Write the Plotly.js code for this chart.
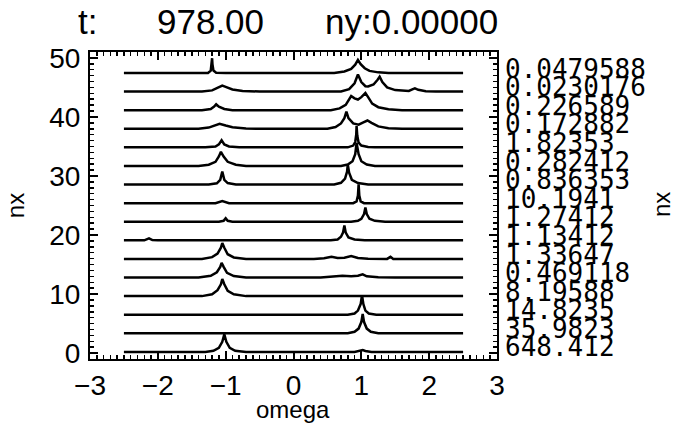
<!DOCTYPE html>
<html>
<head>
<meta charset="utf-8">
<script src="https://cdn.plot.ly/plotly-3.0.1.min.js"></script>
<style>
  html, body { margin: 0; padding: 0; background: #fff; }
  #chart { width: 681px; height: 443px; }
</style>
</head>
<body>
<div id="chart"></div>
<script>
// Stacked power spectra, one row per nx, bottom row first.
// Each spectrum is a list of [omega, amplitude] points; amplitude is
// measured upward from the row's baseline, in nx units.
const rowLabels = ['648.412', '35.9823', '14.8235', '8.19588', '0.469118', '1.33647',
  '1.13412', '1.27412', '10.1941', '0.836353', '0.282412', '1.82353',
  '0.172882', '0.226589', '0.0230176', '0.0479588'];
const rowOffsets = [0.2, 3.35, 6.5, 9.65, 12.8, 15.95, 19.1, 22.25, 25.4, 28.55,
  31.7, 34.85, 38.0, 41.15, 44.3, 47.45];

const spec00 = [[-2.5,0],[-1.3,0],[-1.18,0.2],[-1.1,0.7],[-1.05,1.7],[-1.02,3.0],[-0.99,1.7],[-0.94,0.7],[-0.86,0.2],[-0.7,0],
  [0.9,0],[0.98,0.15],[1.02,0.3],[1.06,0.15],[1.15,0],[2.5,0]];
const spec01 = [[-2.5,0],[0.8,0],[0.9,0.25],[0.96,0.8],[1.0,1.9],[1.02,3.3],[1.04,1.9],[1.08,0.8],[1.14,0.25],[1.25,0],[2.5,0]];
const spec02 = [[-2.5,0],[0.8,0],[0.9,0.2],[0.95,0.7],[0.99,1.8],[1.01,3.3],[1.03,1.8],[1.06,0.7],[1.11,0.2],[1.22,0],[2.5,0]];
const spec03 = [[-2.5,0],[-1.35,0],[-1.2,0.3],[-1.12,1.0],[-1.07,2.0],[-1.05,2.9],[-1.02,2.0],[-0.97,0.9],[-0.88,0.3],[-0.7,0],[2.5,0]];
const spec04 = [[-2.5,0],[-1.4,0],[-1.22,0.3],[-1.13,0.9],[-1.08,1.8],[-1.06,2.5],[-1.03,1.8],[-0.98,0.8],[-0.88,0.25],[-0.7,0],
  [0.4,0],[0.55,0.1],[0.72,0.3],[0.85,0.2],[0.95,0.3],[1.02,0.55],[1.08,0.2],[1.25,0.05],[1.5,0],[2.5,0]];
const spec05 = [[-2.5,0],[-1.35,0],[-1.2,0.3],[-1.12,0.9],[-1.07,1.9],[-1.05,2.7],[-1.02,1.9],[-0.97,0.8],[-0.88,0.25],[-0.7,0],
  [0.3,0],[0.45,0.1],[0.56,0.35],[0.65,0.15],[0.75,0.2],[0.85,0.5],[0.95,0.15],[1.1,0.05],[1.38,0],[1.43,0.35],[1.47,0],[2.5,0]];
const spec06 = [[-2.5,0],[-2.2,0],[-2.13,0.35],[-2.08,0.05],[-2.0,0],
  [0.55,0],[0.65,0.15],[0.7,0.6],[0.73,1.3],[0.75,2.5],[0.77,1.3],[0.81,0.5],[0.9,0.15],[1.05,0],[2.5,0]];
const spec07 = [[-2.5,0],[-1.1,0],[-1.03,0.15],[-1.0,0.6],[-0.97,0.15],[-0.9,0],
  [0.85,0],[0.95,0.15],[1.0,0.5],[1.04,1.3],[1.06,2.4],[1.08,1.3],[1.12,0.5],[1.2,0.15],[1.35,0],[2.5,0]];
const spec08 = [[-2.5,0],[-1.15,0],[-1.05,0.35],[-0.95,0],
  [0.88,0],[0.93,0.3],[0.95,1.3],[0.96,3.2],[0.97,1.3],[0.99,0.3],[1.04,0],[2.5,0]];
const spec09 = [[-2.5,0],[-1.25,0],[-1.13,0.2],[-1.08,0.8],[-1.05,2.2],[-1.02,0.8],[-0.97,0.25],[-0.85,0],
  [0.6,0],[0.7,0.3],[0.76,1.0],[0.79,2.2],[0.8,3.4],[0.82,2.0],[0.86,0.8],[0.95,0.25],[1.1,0],[2.5,0]];
const spec10 = [[-2.5,0],[-1.4,0],[-1.25,0.2],[-1.15,0.7],[-1.1,1.6],[-1.07,2.4],[-1.03,1.6],[-0.97,0.7],[-0.85,0.2],[-0.7,0],
  [0.7,0],[0.8,0.25],[0.87,0.8],[0.91,2.0],[0.93,3.9],[0.96,2.0],[1.0,0.8],[1.08,0.25],[1.2,0],[2.5,0]];
const spec11 = [[-2.5,0],[-1.3,0],[-1.15,0.15],[-1.1,0.5],[-1.06,1.2],[-1.02,0.5],[-0.95,0.15],[-0.8,0],
  [0.8,0],[0.88,0.3],[0.91,0.9],[0.925,2.2],[0.93,3.6],[0.94,2.0],[0.96,0.8],[1.0,0.3],[1.1,0.05],[1.2,0],[2.5,0]];
const spec12 = [[-2.5,0],[-1.4,0],[-1.25,0.2],[-1.15,0.6],[-1.09,0.85],[-1.0,0.55],[-0.9,0.25],[-0.7,0.05],[-0.5,0],
  [0.5,0],[0.62,0.3],[0.7,0.9],[0.75,1.8],[0.78,2.9],[0.81,1.8],[0.88,0.9],[0.96,0.7],[1.03,1.1],[1.09,1.4],[1.15,1.0],[1.25,0.4],[1.4,0.1],[1.6,0],[2.5,0]];
const spec13 = [[-2.5,0],[-1.35,0],[-1.22,0.2],[-1.17,0.6],[-1.14,1.0],[-1.1,0.6],[-1.02,0.2],[-0.9,0],
  [0.55,0],[0.68,0.3],[0.77,0.9],[0.82,1.8],[0.85,2.4],[0.9,2.0],[0.95,1.8],[1.0,2.2],[1.06,2.9],[1.1,2.2],[1.16,1.1],[1.25,0.5],[1.4,0.15],[1.6,0],[2.5,0]];
const spec14 = [[-2.5,0],[-1.35,0],[-1.2,0.2],[-1.1,0.7],[-1.05,1.0],[-1.0,0.8],[-0.9,0.35],[-0.75,0.1],[-0.5,0],
  [0.7,0],[0.82,0.4],[0.9,1.4],[0.95,2.9],[1.0,1.6],[1.06,0.9],[1.1,0.85],[1.18,1.2],[1.24,2.0],[1.27,2.5],[1.31,1.6],[1.38,0.7],[1.5,0.25],[1.65,0.1],
  [1.7,0.1],[1.76,0.4],[1.79,0.55],[1.84,0.3],[1.95,0.05],[2.1,0],[2.5,0]];
const spec15 = [[-2.5,0],[-1.26,0],[-1.22,0.4],[-1.205,1.5],[-1.2,2.5],[-1.195,1.5],[-1.18,0.4],[-1.14,0.05],[-1.0,0],
  [0.6,0],[0.75,0.25],[0.85,0.7],[0.91,1.4],[0.95,2.2],[0.99,1.5],[1.05,0.8],[1.12,0.35],[1.25,0.1],[1.4,0],[2.5,0]];

const spectra = [spec00, spec01, spec02, spec03, spec04, spec05, spec06, spec07,
  spec08, spec09, spec10, spec11, spec12, spec13, spec14, spec15];

const omegaRange = [-3, 3];
const nxRange = [-1, 51];
const omegaTicks = [-3, -2, -1, 0, 1, 2, 3];
const nxTicks = [0, 10, 20, 30, 40, 50];

const ink = '#000';
const traces = spectra.map((spec, i) => ({
  type: 'scatter',
  mode: 'lines',
  x: spec.map(p => p[0]),
  y: spec.map(p => rowOffsets[i] + p[1]),
  line: { color: ink, width: 2.5 },
  hoverinfo: 'skip',
  showlegend: false
}));

// plot area in pixels
const L = 90, R = 497, T = 52, B = 359, W = 681, H = 443;
const px = x => (x - L) / (R - L);
const py = y => (B - y) / (B - T);

const annotations = rowLabels.map((txt, i) => ({
  xref: 'paper', yref: 'y',
  x: px(503), y: rowOffsets[i] + 0.75,
  xanchor: 'left', yanchor: 'middle',
  text: txt, showarrow: false,
  font: { family: 'DejaVu Sans Mono', size: 26, color: ink }
}));

const titleFont = { family: 'Liberation Sans', size: 24, color: ink };
const headFont = { family: 'Liberation Sans', size: 35, color: ink };
annotations.push(
  { xref: 'paper', yref: 'paper', x: px(87), y: py(22), text: 't:', showarrow: false, xanchor: 'center', yanchor: 'middle', font: headFont },
  { xref: 'paper', yref: 'paper', x: px(210), y: py(22), text: '978.00', showarrow: false, xanchor: 'center', yanchor: 'middle', font: headFont },
  { xref: 'paper', yref: 'paper', x: px(411), y: py(22), text: 'ny:0.00000', showarrow: false, xanchor: 'center', yanchor: 'middle', font: headFont },
  // x axis title
  { xref: 'paper', yref: 'paper', x: px(293), y: py(409), text: 'omega', showarrow: false, xanchor: 'center', yanchor: 'middle', font: titleFont },
  // right-hand axis title
  { xref: 'paper', yref: 'paper', x: px(661), y: py(205), text: 'nx', showarrow: false, textangle: -90, xanchor: 'center', yanchor: 'middle', font: titleFont }
);

const axisCommon = {
  showgrid: false, zeroline: false,
  showline: true, linecolor: ink, linewidth: 2,
  mirror: 'allticks', ticks: 'inside', ticklen: 8, tickwidth: 2, tickcolor: ink,
  tickfont: { family: 'Liberation Sans', size: 28, color: ink },
  fixedrange: true
};

const layout = {
  width: W, height: H,
  margin: { l: L, r: W - R, t: T, b: H - B, pad: 0 },
  paper_bgcolor: '#fff', plot_bgcolor: '#fff',
  showlegend: false,
  xaxis: Object.assign({}, axisCommon, {
    range: omegaRange, tickvals: omegaTicks, ticklabelstandoff: 0,
    minor: { dtick: 0.1, ticks: 'inside', ticklen: 4, tickwidth: 1.5, tickcolor: ink }
  }),
  yaxis: Object.assign({}, axisCommon, {
    range: nxRange, tickvals: nxTicks, ticklabelstandoff: 2,
    minor: { dtick: 1, ticks: 'inside', ticklen: 4, tickwidth: 1.5, tickcolor: ink },
    title: { text: 'nx', standoff: 18, font: titleFont }
  }),
  annotations: annotations
};

Plotly.newPlot('chart', traces, layout, { staticPlot: true, displayModeBar: false });
</script>
</body>
</html>
